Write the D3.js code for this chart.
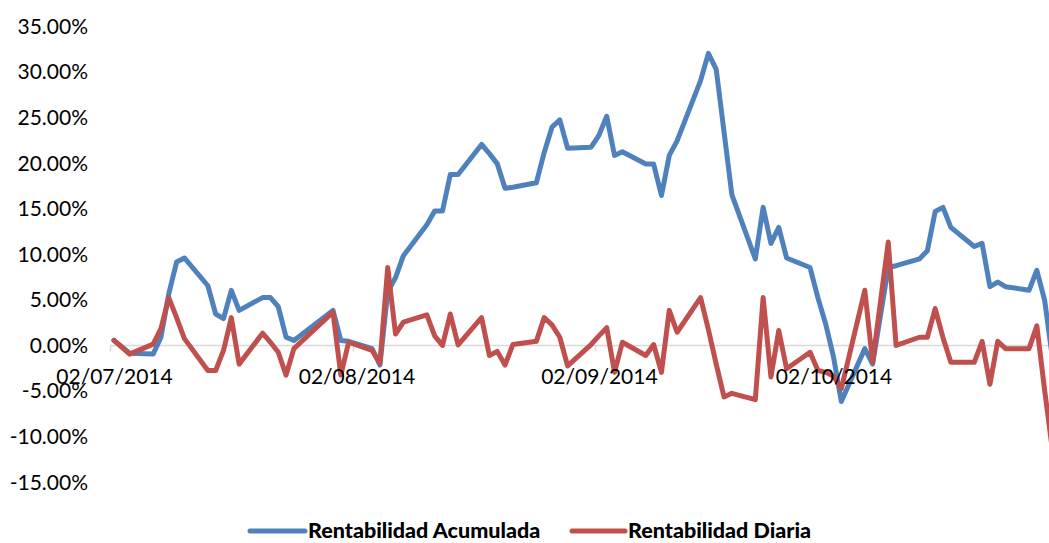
<!DOCTYPE html>
<html>
<head>
<meta charset="utf-8">
<script src="https://cdn.jsdelivr.net/npm/d3@7"></script>
<style>
  html, body { margin: 0; padding: 0; background: #ffffff; }
  svg { display: block; }
  text { font-family: Lato, "Noto Sans", sans-serif; fill: #000; }
</style>
</head>
<body>
<svg id="chart" width="1049" height="543"></svg>
<script>
// Trading days (dd/mm/yyyy shown on the axis)
const dates = [
  "2014-07-02","2014-07-04","2014-07-07","2014-07-08","2014-07-09","2014-07-10","2014-07-11",
  "2014-07-14","2014-07-15","2014-07-16","2014-07-17","2014-07-18",
  "2014-07-21","2014-07-22","2014-07-23","2014-07-24","2014-07-25",
  "2014-07-30","2014-07-31","2014-08-01",
  "2014-08-04","2014-08-05","2014-08-06","2014-08-07","2014-08-08",
  "2014-08-11","2014-08-12","2014-08-13","2014-08-14","2014-08-15",
  "2014-08-18","2014-08-19","2014-08-20","2014-08-21","2014-08-22",
  "2014-08-25","2014-08-26","2014-08-27","2014-08-28","2014-08-29",
  "2014-09-01","2014-09-02","2014-09-03","2014-09-04","2014-09-05",
  "2014-09-08","2014-09-09","2014-09-10","2014-09-11","2014-09-12",
  "2014-09-15","2014-09-16","2014-09-17","2014-09-18","2014-09-19",
  "2014-09-22","2014-09-23","2014-09-24","2014-09-25","2014-09-26",
  "2014-09-29","2014-09-30","2014-10-01","2014-10-02","2014-10-03",
  "2014-10-06","2014-10-07","2014-10-09","2014-10-10",
  "2014-10-13","2014-10-14","2014-10-15","2014-10-16","2014-10-17",
  "2014-10-20","2014-10-21","2014-10-22","2014-10-23","2014-10-24",
  "2014-10-27","2014-10-28","2014-10-29","2014-10-30"
];

// Cumulative return, %
const acumulada = [
  0.5, -0.9, -1.0, 0.85, 5.6, 9.1, 9.55,
  6.5, 3.4, 2.9, 6.0, 3.8,
  5.2, 5.2, 4.2, 0.85, 0.5,
  3.8, 0.5, 0.4,
  -0.4, -2.2, 5.8, 7.4, 9.8,
  13.2, 14.7, 14.7, 18.7, 18.7,
  22.0, 21.0, 19.9, 17.2, 17.3,
  17.8, 21.1, 23.9, 24.7, 21.6,
  21.7, 23.0, 25.1, 20.8, 21.2,
  19.85, 19.85, 16.4, 20.8, 22.4,
  29.0, 32.0, 30.25, 23.4, 16.5,
  9.45, 15.1, 11.15, 12.9, 9.55,
  8.5, 5.2, 2.3, -1.3, -6.2,
  -0.4, -2.1, 8.5, 8.7,
  9.45, 10.35, 14.65, 15.1, 12.9,
  10.8, 11.15, 6.4, 6.9, 6.4,
  6.0, 8.2, 4.9, -1.5
];

// Daily return, %
const diaria = [
  0.5, -1.0, 0.1, 1.8, 5.2, 3.0, 0.7,
  -2.8, -2.8, -0.6, 3.0, -2.1,
  1.3, 0.3, -0.8, -3.3, -0.4,
  3.6, -3.3, 0.3,
  -0.6, -2.0, 8.5, 1.2, 2.5,
  3.3, 1.0, -0.05, 3.4, 0.0,
  3.0, -1.15, -0.7, -2.2, 0.05,
  0.4, 3.0, 2.2, 0.85, -2.3,
  0.05, 1.0, 1.9, -3.0, 0.3,
  -1.15, 0.05, -3.0, 3.8, 1.4,
  5.2, 1.7, -2.1, -5.7, -5.3,
  -6.0, 5.2, -3.5, 1.6, -2.6,
  -0.8, -2.8, -3.0, -3.4, -4.8,
  6.0, -1.9, 11.3, -0.05,
  0.85, 0.85, 4.0, 0.8, -1.9,
  -1.9, 0.4, -4.3, 0.4, -0.4,
  -0.4, 2.1, -5.0, -11.6
];

// Value axis ticks, %
const yTicks = [-15, -10, -5, 0, 5, 10, 15, 20, 25, 30, 35];

// Dates labelled on the category axis
const xLabels = ["2014-07-02", "2014-08-02", "2014-09-02", "2014-10-02"];

const seriesNames = ["Rentabilidad Acumulada", "Rentabilidad Diaria"];
const seriesColors = ["#4F81BD", "#C0504D"];

const parse = d3.utcParse("%Y-%m-%d");
const fmt = d3.utcFormat("%d/%m/%Y");
const halfDay = 12 * 3600 * 1000;

const svg = d3.select("#chart");

// Each date sits in the middle of a one-day slot
const x = d3.scaleUtc()
  .domain([new Date(+parse("2014-07-02") - halfDay), new Date(+parse("2014-10-30") + halfDay)])
  .range([110.1, 1056.4]);

const y = d3.scaleLinear()
  .domain([-15, 35])
  .range([481.7, 26]);

// Value axis labels (no axis line), plain hyphen for negatives
const pct = d3.format(".2f");
const yAxis = d3.axisLeft(y)
  .tickValues(yTicks)
  .tickSize(0)
  .tickPadding(0)
  .tickFormat(d => pct(d).replace("\u2212", "-") + "%");

svg.append("g")
  .attr("transform", "translate(88,0)")
  .call(yAxis)
  .call(g => g.select(".domain").remove())
  .call(g => g.selectAll("text")
    .attr("font-family", "Lato, 'Noto Sans', sans-serif")
    .attr("font-size", 21)
    .attr("fill", "#000")
    .attr("dy", "0.35em"));

// Category axis line at zero with month boundary tick marks
const y0 = Math.round(y(0)) + 0.5;
svg.append("line")
  .attr("x1", x.range()[0]).attr("x2", 1049)
  .attr("y1", y0).attr("y2", y0)
  .attr("stroke", "#d9d9d9").attr("stroke-width", 1.5);

svg.selectAll(".tickmark")
  .data(xLabels)
  .join("line")
  .attr("class", "tickmark")
  .attr("x1", d => Math.round(x(new Date(+parse(d) - halfDay))) + 0.5)
  .attr("x2", d => Math.round(x(new Date(+parse(d) - halfDay))) + 0.5)
  .attr("y1", y0).attr("y2", y0 + 6)
  .attr("stroke", "#d9d9d9").attr("stroke-width", 1.5);

// Series lines
const series = [acumulada, diaria];
const line = d3.line()
  .x((d, i) => x(parse(dates[i])))
  .y(d => y(d));

svg.append("g")
  .selectAll("path")
  .data(series)
  .join("path")
  .attr("d", d => line(d))
  .attr("fill", "none")
  .attr("stroke", (d, i) => seriesColors[i])
  .attr("stroke-width", 5)
  .attr("stroke-linejoin", "round")
  .attr("stroke-linecap", "round");

// Date labels
const xAxis = d3.axisBottom(x)
  .tickValues(xLabels.map(parse))
  .tickSize(0)
  .tickPadding(0)
  .tickFormat(fmt);

svg.append("g")
  .attr("transform", `translate(0,${y0})`)
  .call(xAxis)
  .call(g => g.select(".domain").remove())
  .call(g => g.selectAll("text")
    .attr("font-family", "Lato, 'Noto Sans', sans-serif")
    .attr("font-size", 21)
    .attr("fill", "#000")
    .attr("dy", null)
    .attr("y", 38.5));

// Legend
const legendItems = [
  { x1: 250, x2: 305, tx: 308 },
  { x1: 572, x2: 625, tx: 628 }
];
const legend = svg.append("g");
legend.selectAll("line")
  .data(seriesNames)
  .join("line")
  .attr("x1", (d, i) => legendItems[i].x1)
  .attr("x2", (d, i) => legendItems[i].x2)
  .attr("y1", 531).attr("y2", 531)
  .attr("stroke", (d, i) => seriesColors[i])
  .attr("stroke-width", 5)
  .attr("stroke-linecap", "round");
legend.selectAll("text")
  .data(seriesNames)
  .join("text")
  .attr("x", (d, i) => legendItems[i].tx)
  .attr("y", 537.5)
  .attr("font-size", 21.5)
  .attr("font-weight", 900)
  .text(d => d);
</script>
</body>
</html>
